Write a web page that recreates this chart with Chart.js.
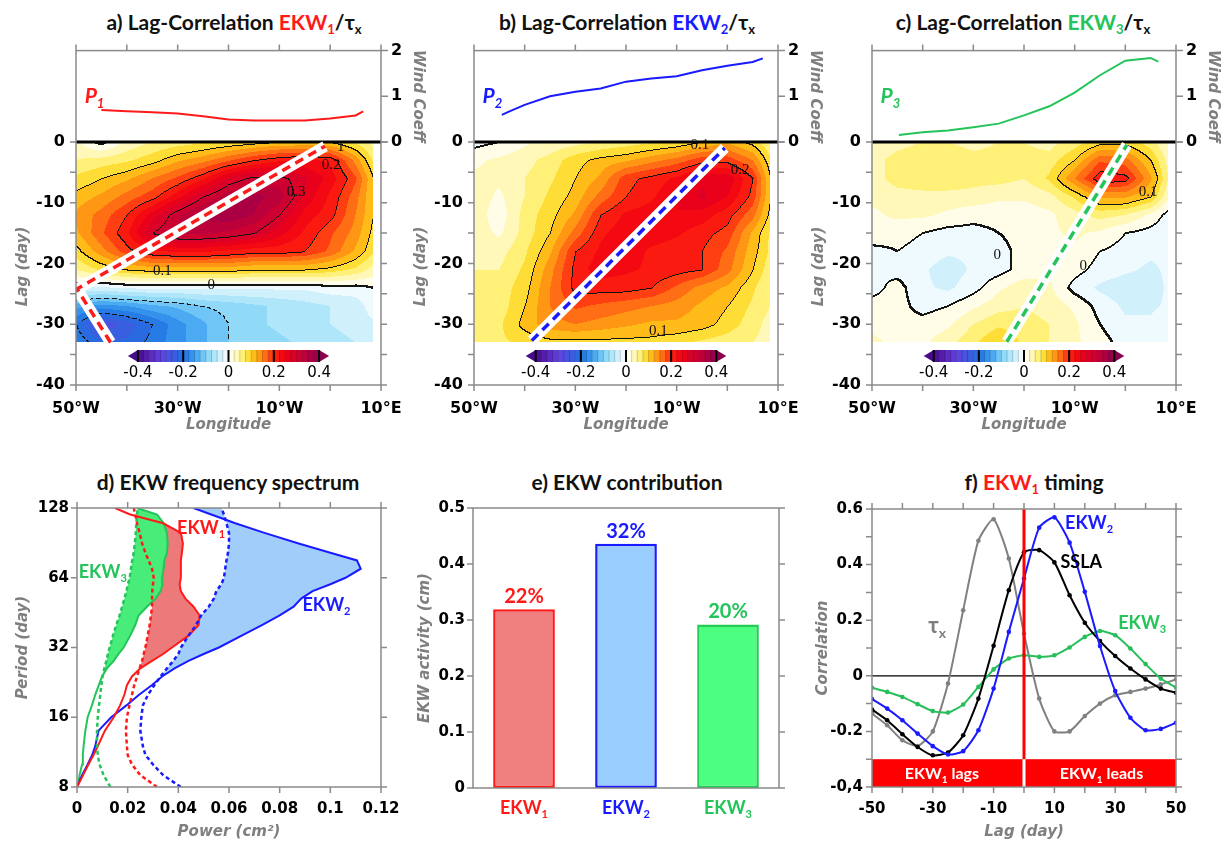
<!DOCTYPE html>
<html>
<head>
<meta charset="utf-8">
<title>EKW lag-correlation</title>
<script src="https://cdn.jsdelivr.net/npm/chart.js@4.4.1/dist/chart.umd.min.js"></script>
<style>
  body { margin: 0; background: #fff; }
  #fig { position: relative; width: 1232px; height: 843px; overflow: hidden; background: #fff; }
  .ttl { position: absolute; font: bold 21px Lato, 'DejaVu Sans', sans-serif; color: #111; white-space: nowrap;
         transform: translateX(-50%); line-height: 1; }
  .ttl sub { font-size: 13px; vertical-align: -4px; line-height: 0; }
  canvas { position: absolute; }
</style>
</head>
<body>
<div id="fig">
  <div class="ttl" style="left:234px;top:11px">a) Lag-Correlation <span style="color:#ff1a1a">EKW<sub>1</sub></span>/τ<sub>x</sub></div>
  <div class="ttl" style="left:627px;top:11px">b) Lag-Correlation <span style="color:#1a1aff">EKW<sub>2</sub></span>/τ<sub>x</sub></div>
  <div class="ttl" style="left:1023px;top:11px">c) Lag-Correlation <span style="color:rgb(36,196,90)">EKW<sub>3</sub></span>/τ<sub>x</sub></div>
  <div class="ttl" style="left:228px;top:471px">d) EKW frequency spectrum</div>
  <div class="ttl" style="left:627px;top:471px">e) EKW contribution</div>
  <div class="ttl" style="left:1034px;top:471px">f) <span style="color:#ff1a1a">EKW<sub>1</sub></span> timing</div>

  <canvas id="cA" width="432" height="410" style="left:0;top:30px"></canvas>
  <canvas id="cB" width="432" height="410" style="left:400px;top:30px"></canvas>
  <canvas id="cC" width="432" height="410" style="left:800px;top:30px"></canvas>
  <canvas id="cD" width="420" height="373" style="left:0;top:470px"></canvas>
  <canvas id="cE" width="410" height="373" style="left:410px;top:470px"></canvas>
  <canvas id="cF" width="418" height="373" style="left:814px;top:470px"></canvas>
</div>
<script>
// ---------- data: lag-correlation maps (rows = lag, cols = longitude) ----------
const LON = [-50, -45, -40, -35, -30, -25, -20, -15, -10, -5, 0, 5, 8.5];
const LAG = [0, -3, -6, -9, -12, -15, -18, -21, -24, -27, -30, -33];

const CORR_A = [
  [0.03, -0.01, 0.03, 0.05, 0.06, 0.07, 0.08, 0.09, 0.10, 0.10, 0.10, 0.07, 0.04],
  [0.05, 0.06, 0.07, 0.09, 0.12, 0.14, 0.17, 0.20, 0.22, 0.23, 0.22, 0.14, 0.07],
  [0.08, 0.10, 0.12, 0.15, 0.18, 0.22, 0.28, 0.31, 0.31, 0.28, 0.24, 0.18, 0.10],
  [0.11, 0.13, 0.16, 0.19, 0.24, 0.30, 0.34, 0.36, 0.34, 0.27, 0.22, 0.16, 0.10],
  [0.13, 0.16, 0.20, 0.26, 0.32, 0.36, 0.37, 0.35, 0.30, 0.24, 0.21, 0.15, 0.10],
  [0.12, 0.17, 0.22, 0.30, 0.33, 0.33, 0.32, 0.30, 0.26, 0.22, 0.18, 0.14, 0.09],
  [0.09, 0.14, 0.19, 0.22, 0.23, 0.23, 0.22, 0.21, 0.21, 0.20, 0.17, 0.12, 0.08],
  [0.05, 0.08, 0.10, 0.11, 0.11, 0.11, 0.11, 0.10, 0.10, 0.10, 0.09, 0.07, 0.04],
  [-0.02, -0.03, -0.02, -0.02, -0.02, -0.02, -0.02, -0.02, -0.02, -0.02, -0.01, -0.01, 0.00],
  [-0.14, -0.16, -0.15, -0.13, -0.12, -0.10, -0.09, -0.08, -0.07, -0.06, -0.05, -0.04, -0.01],
  [-0.20, -0.27, -0.24, -0.20, -0.16, -0.13, -0.10, -0.08, -0.07, -0.06, -0.05, -0.04, -0.03],
  [-0.18, -0.22, -0.22, -0.19, -0.16, -0.13, -0.10, -0.09, -0.08, -0.07, -0.06, -0.05, -0.04]
];
const CORR_B = [
  [-0.01, 0.00, 0.02, 0.03, 0.04, 0.05, 0.06, 0.07, 0.08, 0.10, 0.12, 0.09, 0.05],
  [0.02, 0.03, 0.04, 0.06, 0.09, 0.11, 0.12, 0.14, 0.16, 0.19, 0.19, 0.15, 0.08],
  [0.03, 0.03, 0.05, 0.07, 0.10, 0.13, 0.19, 0.21, 0.23, 0.27, 0.27, 0.20, 0.10],
  [0.04, 0.02, 0.05, 0.08, 0.11, 0.16, 0.20, 0.22, 0.25, 0.28, 0.25, 0.19, 0.10],
  [0.04, 0.01, 0.06, 0.09, 0.13, 0.20, 0.23, 0.24, 0.25, 0.24, 0.21, 0.16, 0.09],
  [0.04, 0.02, 0.06, 0.10, 0.16, 0.22, 0.24, 0.24, 0.23, 0.21, 0.19, 0.12, 0.07],
  [0.04, 0.04, 0.07, 0.12, 0.20, 0.23, 0.24, 0.22, 0.21, 0.20, 0.17, 0.11, 0.07],
  [0.05, 0.05, 0.08, 0.14, 0.21, 0.24, 0.23, 0.22, 0.21, 0.20, 0.16, 0.10, 0.06],
  [0.05, 0.06, 0.09, 0.15, 0.21, 0.21, 0.21, 0.20, 0.17, 0.14, 0.12, 0.08, 0.05],
  [0.05, 0.06, 0.10, 0.15, 0.18, 0.17, 0.16, 0.15, 0.14, 0.12, 0.10, 0.07, 0.05],
  [0.05, 0.07, 0.11, 0.14, 0.15, 0.14, 0.13, 0.12, 0.12, 0.11, 0.09, 0.06, 0.04],
  [0.05, 0.07, 0.08, 0.09, 0.09, 0.09, 0.09, 0.09, 0.08, 0.07, 0.06, 0.05, 0.04]
];
const CORR_C = [
  [0.03, 0.04, 0.05, 0.05, 0.04, 0.05, 0.05, 0.04, 0.06, 0.09, 0.09, 0.06, 0.02],
  [0.04, 0.06, 0.07, 0.07, 0.06, 0.06, 0.06, 0.06, 0.10, 0.17, 0.16, 0.10, 0.04],
  [0.04, 0.06, 0.07, 0.07, 0.06, 0.06, 0.05, 0.08, 0.15, 0.22, 0.21, 0.13, 0.05],
  [0.03, 0.04, 0.04, 0.04, 0.04, 0.03, 0.03, 0.04, 0.08, 0.13, 0.13, 0.10, 0.03],
  [0.02, 0.03, 0.03, 0.02, 0.01, 0.01, 0.01, 0.02, 0.04, 0.06, 0.05, 0.02, -0.01],
  [0.02, 0.01, 0.00, -0.01, -0.01, 0.00, 0.01, 0.02, 0.03, 0.02, 0.00, -0.01, -0.02],
  [-0.01, 0.00, -0.01, -0.02, -0.02, -0.01, 0.01, 0.02, 0.02, 0.00, -0.01, -0.02, -0.02],
  [0.00, -0.01, -0.02, -0.04, -0.02, -0.01, 0.01, 0.02, 0.01, -0.01, -0.02, -0.03, -0.02],
  [-0.01, 0.01, -0.02, -0.03, -0.01, 0.02, 0.04, 0.03, -0.01, -0.03, -0.04, -0.04, -0.02],
  [0.01, 0.01, -0.01, 0.00, 0.02, 0.04, 0.05, 0.04, 0.02, -0.01, -0.03, -0.03, -0.02],
  [0.02, 0.01, 0.01, 0.02, 0.05, 0.07, 0.06, 0.05, 0.03, 0.00, -0.02, -0.02, -0.01],
  [0.03, 0.02, 0.02, 0.04, 0.07, 0.10, 0.07, 0.05, 0.03, 0.01, -0.01, -0.01, -0.01]
];

// wind coefficient profiles (upper strips)
const WIND_LON_A = [-45, -40, -35, -30, -25, -20, -15, -10, -5, 0, 5, 6.5];
const WIND_A = [0.70, 0.67, 0.65, 0.62, 0.56, 0.49, 0.47, 0.47, 0.47, 0.51, 0.58, 0.67];
const WIND_LON_B = [-44.5, -43, -40, -35, -30, -25, -20, -15, -10, -5, 0, 5, 7];
const WIND_B = [0.59, 0.67, 0.81, 1.00, 1.10, 1.17, 1.32, 1.39, 1.44, 1.57, 1.67, 1.75, 1.83];
const WIND_LON_C = [-44.7, -40, -35, -30, -25, -20, -15, -10, -5, 0, 5, 6.5];
const WIND_C = [0.15, 0.21, 0.25, 0.32, 0.40, 0.58, 0.78, 1.08, 1.46, 1.78, 1.84, 1.76];

// propagation paths (lon, lag)
const PATH_LON_A = [-43.2, -49.8, -1.0];
const PATH_LAG_A = [-33.0, -24.2, -0.7];
const PATH_LON_B = [-38.6, -0.5];
const PATH_LAG_B = [-32.7, -1.0];
const PATH_LON_C = [-23.4, 0.3];
const PATH_LAG_C = [-32.9, -0.5];

const LON_TICKS = [-50, -30, -10, 10];
const LON_MARKS = [-50, -40, -30, -20, -10, 0, 10];
const LAG_TICKS = [-40, -30, -20, -10, 0];
const LAG_MARKS = [-40, -35, -30, -25, -20, -15, -10, -5, 0];
const WIND_TICKS = [0, 1, 2];
const CBAR_TICKS = [-0.4, -0.2, 0, 0.2, 0.4];

// ---------- data: spectrum (d) ----------
const PERIODS = [8, 9, 10, 11, 12, 14, 16, 18, 20, 22, 24, 26, 28, 30, 32, 36, 40, 44, 48, 52, 56, 60, 64, 70, 76, 82, 90, 100, 110, 120, 128];
const EKW1_POW = [0, 0.0024, 0.0045, 0.0065, 0.0082, 0.011, 0.0145, 0.017, 0.0187, 0.0197, 0.0217, 0.025, 0.0296, 0.034, 0.0375, 0.044, 0.048, 0.0484, 0.046, 0.0428, 0.041, 0.0405, 0.041, 0.041, 0.041, 0.0414, 0.0418, 0.041, 0.034, 0.021, 0.015];
const EKW2_POW = [0, 0.002, 0.0042, 0.006, 0.0072, 0.0085, 0.0135, 0.0195, 0.0245, 0.0295, 0.0336, 0.0385, 0.044, 0.05, 0.056, 0.065, 0.073, 0.08, 0.0855, 0.0885, 0.093, 0.1, 0.106, 0.112, 0.1105, 0.1, 0.0875, 0.074, 0.0625, 0.053, 0.046];
const EKW3_POW = [0.0003, 0.001, 0.002, 0.0023, 0.0026, 0.0033, 0.0042, 0.0059, 0.0072, 0.0086, 0.0099, 0.0118, 0.0145, 0.0164, 0.0184, 0.021, 0.023, 0.0243, 0.0276, 0.031, 0.033, 0.0338, 0.0336, 0.0342, 0.0345, 0.0355, 0.0358, 0.0355, 0.0342, 0.0316, 0.0237];
const EKW1_SIG = [0.0316, 0.025, 0.0217, 0.02, 0.0197, 0.0193, 0.0197, 0.0207, 0.0217, 0.0226, 0.0237, 0.0247, 0.0257, 0.0263, 0.027, 0.0279, 0.0287, 0.0292, 0.0296, 0.0296, 0.0297, 0.03, 0.0303, 0.0296, 0.0283, 0.027, 0.0257, 0.0247, 0.0237, 0.023, 0.0224];
const EKW2_SIG = [0.041, 0.034, 0.03, 0.027, 0.026, 0.025, 0.0254, 0.026, 0.028, 0.0305, 0.033, 0.0355, 0.038, 0.04, 0.041, 0.044, 0.047, 0.049, 0.052, 0.054, 0.055, 0.057, 0.058, 0.0585, 0.059, 0.0596, 0.06, 0.06, 0.059, 0.058, 0.057];
const EKW3_SIG = [0.0132, 0.0105, 0.0089, 0.0082, 0.0079, 0.0079, 0.0082, 0.0087, 0.0092, 0.0096, 0.0101, 0.0108, 0.0116, 0.0122, 0.0129, 0.0142, 0.0155, 0.0168, 0.0178, 0.0187, 0.0195, 0.0201, 0.0208, 0.0213, 0.0218, 0.0224, 0.0228, 0.0232, 0.0234, 0.0237, 0.0239];
const POWER_TICKS = [0, 0.02, 0.04, 0.06, 0.08, 0.1, 0.12];
const PERIOD_TICKS = [8, 16, 32, 64, 128];

// ---------- data: contribution (e) ----------
const EKW_NAMES = ['EKW1', 'EKW2', 'EKW3'];
const EKW_ACT = [0.319, 0.436, 0.292];
const EKW_PCT = ['22%', '32%', '20%'];
const ACT_TICKS = [0, 0.1, 0.2, 0.3, 0.4, 0.5];

// ---------- data: timing (f) ----------
const LAG_F = [-50, -45, -40, -35, -30, -25, -20, -15, -10, -5, 0, 5, 10, 15, 20, 25, 30, 35, 40, 45, 50];
const TAUX_F = [-0.136, -0.178, -0.232, -0.253, -0.2, -0.028, 0.236, 0.486, 0.563, 0.422, 0.152, -0.082, -0.2, -0.2, -0.145, -0.1, -0.07, -0.058, -0.046, -0.031, -0.013];
const SSLA_F = [-0.121, -0.16, -0.21, -0.256, -0.286, -0.276, -0.214, -0.082, 0.108, 0.308, 0.444, 0.452, 0.408, 0.29, 0.191, 0.125, 0.071, 0.026, -0.013, -0.046, -0.061];
const EKW2_F = [-0.084, -0.118, -0.16, -0.208, -0.253, -0.283, -0.271, -0.196, -0.046, 0.158, 0.35, 0.533, 0.57, 0.479, 0.302, 0.107, -0.055, -0.151, -0.196, -0.191, -0.169];
const EKW3_F = [-0.043, -0.058, -0.076, -0.102, -0.127, -0.132, -0.103, -0.04, 0.023, 0.062, 0.074, 0.068, 0.074, 0.102, 0.14, 0.161, 0.146, 0.098, 0.042, -0.01, -0.042];
const LAGF_TICKS = [-50, -30, -10, 10, 30, 50];
const LAGF_MARKS = [-50, -40, -30, -20, -10, 0, 10, 20, 30, 40, 50];
const CORR_TICKS = [-0.4, -0.2, 0, 0.2, 0.4, 0.6];
const CORR_MARKS = [-0.4, -0.3, -0.2, -0.1, 0, 0.1, 0.2, 0.3, 0.4, 0.5, 0.6];

// ---------- styles ----------
const FONT = "'DejaVu Sans', sans-serif";
const LFONT = "Lato, 'DejaVu Sans', sans-serif";
const GRAY = '#7f7f7f';
const FRAME = '#8a8a8a';
const RED = '#ff1a1a', BLUE = '#1a1aff', GREEN = 'rgb(36,196,90)';
const CMAP = [
  [-0.4, [74, 10, 140]], [-0.3, [100, 64, 224]], [-0.2, [32, 112, 224]], [-0.15, [58, 156, 240]],
  [-0.1, [128, 210, 246]], [-0.05, [192, 236, 250]], [0, [255, 255, 255]], [0.05, [255, 245, 160]],
  [0.075, [255, 236, 80]], [0.1, [255, 205, 30]], [0.125, [255, 170, 20]], [0.15, [255, 130, 20]],
  [0.175, [255, 90, 20]], [0.2, [255, 35, 15]], [0.25, [240, 0, 20]], [0.3, [212, 0, 45]],
  [0.35, [180, 0, 62]], [0.4, [140, 0, 80]]
];

Chart.defaults.animation = false;
Chart.defaults.events = [];
Chart.defaults.plugins.legend.display = false;
Chart.defaults.plugins.tooltip.enabled = false;
Chart.defaults.font.family = FONT;
Chart.defaults.color = '#000';

const pts = (xs, ys) => xs.map((x, i) => ({ x, y: ys[i] }));
const setTicks = vals => s => { s.ticks = vals.map(v => ({ value: v })); };
const noGrid = { display: false, drawTicks: false };

function binColor(b) {
  const v = Math.max(-0.41, Math.min(0.41, (b + 0.5) * 0.025));
  let k = 0;
  while (k < CMAP.length - 2 && v > CMAP[k + 1][0]) k++;
  const [v0, c0] = CMAP[k], [v1, c1] = CMAP[k + 1];
  const t = Math.max(0, Math.min(1, (v - v0) / (v1 - v0)));
  return c0.map((c, i) => Math.round(c + (c1[i] - c) * t));
}

function sample(grid, lon, lag) {
  let i = 0; while (i < LON.length - 2 && lon > LON[i + 1]) i++;
  let j = 0; while (j < LAG.length - 2 && lag < LAG[j + 1]) j++;
  const tx = Math.max(0, Math.min(1, (lon - LON[i]) / (LON[i + 1] - LON[i])));
  const ty = Math.max(0, Math.min(1, (lag - LAG[j]) / (LAG[j + 1] - LAG[j])));
  return (1 - ty) * ((1 - tx) * grid[j][i] + tx * grid[j][i + 1]) +
         ty * ((1 - tx) * grid[j + 1][i] + tx * grid[j + 1][i + 1]);
}

// text with subscript parts: [[text, color, isSub]]
function rich(ctx, x, y, parts, size, align = 'left', italic = false) {
  const f = sub => `${italic ? 'italic ' : ''}bold ${sub ? Math.round(size * 0.62) : size}px ${LFONT}`;
  let w = 0;
  parts.forEach(([t, , sub]) => { ctx.font = f(sub); w += ctx.measureText(t).width; });
  let cx = align === 'center' ? x - w / 2 : align === 'right' ? x - w : x;
  ctx.textAlign = 'left'; ctx.textBaseline = 'alphabetic';
  parts.forEach(([t, c, sub]) => {
    ctx.font = f(sub); ctx.fillStyle = c;
    ctx.fillText(t, cx, y + (sub ? size * 0.22 : 0));
    cx += ctx.measureText(t).width;
  });
}

// frame with outward tick marks
function drawFrame(chart, xs, ys, yId) {
  const { ctx, chartArea: a, scales } = chart;
  const sx = scales.x, sy = scales[yId];
  ctx.save();
  ctx.strokeStyle = FRAME; ctx.lineWidth = 1.5;
  ctx.strokeRect(a.left, a.top, a.right - a.left, a.bottom - a.top);
  ctx.beginPath();
  xs.forEach(v => {
    const p = sx.getPixelForValue(v);
    ctx.moveTo(p, a.top); ctx.lineTo(p, a.top - 6);
    ctx.moveTo(p, a.bottom); ctx.lineTo(p, a.bottom + 6);
  });
  ys.forEach(v => {
    const p = sy.getPixelForValue(v);
    ctx.moveTo(a.left, p); ctx.lineTo(a.left - 6, p);
    ctx.moveTo(a.right, p); ctx.lineTo(a.right + 6, p);
  });
  ctx.stroke();
  ctx.restore();
}

// filled contour map + contour lines + colour bar
function heatPlugin(grid) {
  return {
    id: 'heat',
    beforeDatasetsDraw(chart) {
      const { ctx, chartArea: a, scales: { x, y } } = chart;
      const X0 = Math.round(x.getPixelForValue(LON[0])), X1 = Math.round(x.getPixelForValue(LON[LON.length - 1]));
      const Y0 = Math.round(y.getPixelForValue(LAG[0])), Y1 = Math.round(y.getPixelForValue(LAG[LAG.length - 1]));
      const W = X1 - X0, H = Y1 - Y0;
      const val = new Float32Array(W * H);
      for (let j = 0; j < H; j++) {
        const lag = y.getValueForPixel(Y0 + j + 0.5);
        for (let i = 0; i < W; i++) val[j * W + i] = sample(grid, x.getValueForPixel(X0 + i + 0.5), lag);
      }
      const off = document.createElement('canvas');
      off.width = W; off.height = H;
      const octx = off.getContext('2d');
      const img = octx.createImageData(W, H);
      const d = img.data;
      const cache = {};
      for (let k = 0; k < W * H; k++) {
        const b = Math.max(-17, Math.min(16, Math.floor(val[k] / 0.025)));
        const c = cache[b] || (cache[b] = binColor(b));
        d[4 * k] = c[0]; d[4 * k + 1] = c[1]; d[4 * k + 2] = c[2]; d[4 * k + 3] = 255;
      }
      const lev = k => Math.floor(val[k] / 0.1 + 1e-6);
      const ink = (k, s) => { d[4 * k] = s; d[4 * k + 1] = s; d[4 * k + 2] = s; };
      for (let j = 0; j < H; j++) {
        for (let i = 0; i < W; i++) {
          const k = j * W + i, L = lev(k);
          let m = null;
          if (i > 0 && lev(k - 1) !== L) m = Math.max(L, lev(k - 1));
          if (j > 0 && lev(k - W) !== L) m = Math.max(m === null ? -99 : m, L, lev(k - W));
          if (m === null) continue;
          if (m < 0 && (i + j) % 8 > 4) continue;
          ink(k, 20);
          if (m === 0) { if (i > 0) ink(k - 1, 20); if (j > 0) ink(k - W, 20); }
        }
      }
      octx.putImageData(img, 0, 0);
      ctx.drawImage(off, X0, Y0);

      // colour bar
      const Wd = a.right - a.left;
      const cbL = a.left + 0.203 * Wd, cbR = a.left + 0.797 * Wd;
      const cbT = Math.round(y.getPixelForValue(-34.3)), cbH = 12;
      const bw = (cbR - cbL) / 32;
      ctx.save();
      for (let b = -16; b < 16; b++) {
        const c = binColor(b);
        ctx.fillStyle = `rgb(${c[0]},${c[1]},${c[2]})`;
        ctx.fillRect(cbL + (b + 16) * bw, cbT, bw + 0.5, cbH);
      }
      const cl = binColor(-17), cr = binColor(16);
      ctx.fillStyle = `rgb(${cl[0]},${cl[1]},${cl[2]})`;
      ctx.beginPath(); ctx.moveTo(cbL, cbT); ctx.lineTo(cbL - 10, cbT + cbH / 2); ctx.lineTo(cbL, cbT + cbH); ctx.fill();
      ctx.fillStyle = `rgb(${cr[0]},${cr[1]},${cr[2]})`;
      ctx.beginPath(); ctx.moveTo(cbR, cbT); ctx.lineTo(cbR + 10, cbT + cbH / 2); ctx.lineTo(cbR, cbT + cbH); ctx.fill();
      ctx.strokeStyle = 'rgba(0,0,0,0.3)'; ctx.lineWidth = 0.6;
      ctx.beginPath();
      for (let b = 1; b < 32; b++) { ctx.moveTo(cbL + b * bw, cbT); ctx.lineTo(cbL + b * bw, cbT + cbH); }
      ctx.stroke();
      ctx.strokeStyle = '#000'; ctx.lineWidth = 2;
      ctx.beginPath();
      CBAR_TICKS.forEach(v => { const p = cbL + (v + 0.4) / 0.8 * (cbR - cbL); ctx.moveTo(p, cbT); ctx.lineTo(p, cbT + cbH); });
      ctx.stroke();
      ctx.fillStyle = '#000'; ctx.font = `15px ${FONT}`; ctx.textAlign = 'center'; ctx.textBaseline = 'middle';
      CBAR_TICKS.forEach(v => ctx.fillText(String(v), cbL + (v + 0.4) / 0.8 * (cbR - cbL), cbT + cbH + 11));
      ctx.restore();
    }
  };
}

function mapDecor(o) {
  return {
    id: 'mapDecor',
    afterDraw(chart) {
      const { ctx, chartArea: a, scales: { x, y, w } } = chart;
      drawFrame(chart, LON_MARKS, LAG_MARKS, 'y');
      ctx.save();
      ctx.strokeStyle = FRAME; ctx.lineWidth = 1.5;
      ctx.beginPath();
      WIND_TICKS.forEach(v => { const p = w.getPixelForValue(v); ctx.moveTo(a.right, p); ctx.lineTo(a.right + 7, p); });
      ctx.stroke();
      ctx.fillStyle = GRAY; ctx.font = `italic bold 15px ${FONT}`;
      ctx.textAlign = 'center'; ctx.textBaseline = 'middle';
      ctx.save(); ctx.translate(a.left - 53, y.getPixelForValue(-20.5)); ctx.rotate(-Math.PI / 2);
      ctx.fillText('Lag (day)', 0, 0); ctx.restore();
      ctx.save(); ctx.translate(a.right + 37, (w.getPixelForValue(0) + w.getPixelForValue(2)) / 2); ctx.rotate(Math.PI / 2);
      ctx.fillText('Wind Coeff', 0, 0); ctx.restore();
      rich(ctx, x.getPixelForValue(-48.3), w.getPixelForValue(1.0) + 7, [['P', o.color], [o.sub, o.color, true]], 21, 'left', true);
      ctx.fillStyle = '#111'; ctx.font = "15px 'Liberation Serif', serif";
      ctx.textAlign = 'center'; ctx.textBaseline = 'middle';
      o.labels.forEach(([t, lon, lag]) => ctx.fillText(t, x.getPixelForValue(lon), y.getPixelForValue(lag)));
      ctx.restore();
    }
  };
}

function mapChart(id, o) {
  const path = pts(o.pathLon, o.pathLag);
  return new Chart(document.getElementById(id), {
    type: 'line',
    data: {
      datasets: [
        { data: path, yAxisID: 'y', borderColor: o.color, borderWidth: 3.5, borderDash: [9, 6], pointRadius: 0, order: 0, clip: 0 },
        { data: path, yAxisID: 'y', borderColor: '#fff', borderWidth: 11, pointRadius: 0, order: 1, clip: 0 },
        { data: pts(o.windLon, o.wind), yAxisID: 'w', borderColor: o.color, borderWidth: 2, pointRadius: 0, order: 2 },
        { data: [{ x: -50, y: 0 }, { x: 10, y: 0 }], yAxisID: 'y', borderColor: '#000', borderWidth: 3, pointRadius: 0, order: 3 }
      ]
    },
    options: {
      responsive: false,
      layout: { padding: { top: 18, left: 0, right: 0, bottom: 0 } },
      scales: {
        x: {
          type: 'linear', min: -50, max: 10, afterBuildTicks: setTicks(LON_TICKS),
          afterFit: s => { s.height = 55; s.paddingLeft = 0; s.paddingRight = 0; },
          grid: noGrid, border: { display: false },
          ticks: { padding: 14, autoSkip: false, maxRotation: 0, font: { size: 16, weight: 'bold' },
                   callback: v => v < 0 ? `${-v}°W` : `${v}°E` },
          title: { display: true, text: 'Longitude', color: GRAY, padding: { top: 0, bottom: 6 },
                   font: { size: 15, weight: 'bold', style: 'italic' } }
        },
        y: {
          type: 'linear', position: 'left', min: -40, max: 15.02, afterBuildTicks: setTicks(LAG_TICKS),
          afterFit: s => { s.width = o.leftW; }, grid: noGrid, border: { display: false },
          ticks: { padding: 11, autoSkip: false, font: { size: 16, weight: 'bold' } }
        },
        w: {
          type: 'linear', position: 'right', min: -5.326, max: 2, afterBuildTicks: setTicks(WIND_TICKS),
          afterFit: s => { s.width = o.rightW; }, grid: noGrid, border: { display: false },
          ticks: { padding: 10, autoSkip: false, font: { size: 16, weight: 'bold' } }
        }
      }
    },
    plugins: [heatPlugin(o.grid), mapDecor(o)]
  });
}

mapChart('cA', {
  grid: CORR_A, windLon: WIND_LON_A, wind: WIND_A, pathLon: PATH_LON_A, pathLag: PATH_LAG_A,
  color: RED, sub: '1', leftW: 76, rightW: 51,
  labels: [['0.1', -33, -21.2], ['0', -23.4, -23.6], ['0.3', -6.7, -8.2], ['0.2', 0.2, -3.8], ['1', 2.1, -0.8]]
});
mapChart('cB', {
  grid: CORR_B, windLon: WIND_LON_B, wind: WIND_B, pathLon: PATH_LON_B, pathLag: PATH_LAG_B,
  color: BLUE, sub: '2', leftW: 74, rightW: 54,
  labels: [['0.1', -13.6, -31.2], ['0.2', 2.5, -4.6], ['0.1', -5.4, -0.6]]
});
mapChart('cC', {
  grid: CORR_C, windLon: WIND_LON_C, wind: WIND_C, pathLon: PATH_LON_C, pathLag: PATH_LAG_C,
  color: GREEN, sub: '3', leftW: 72, rightW: 56,
  labels: [['0.1', 4.5, -8.2], ['0', -25.3, -18.7], ['0', -8.3, -20.4]]
});

// ---------- d) spectrum ----------
const spectrumFill = {
  id: 'spectrumFill',
  beforeDatasetsDraw(chart) {
    const ctx = chart.ctx;
    // [solid dataset, dashed dataset, from period, to period, colour]
    [[4, 1, 24, 128, 'rgb(160,205,250)'], [3, 0, 26, 110, 'rgb(236,122,122)'], [5, 2, 24, 128, 'rgb(72,236,120)']]
      .forEach(([si, di, p0, p1, col]) => {
        const sp = chart.getDatasetMeta(si).data, dp = chart.getDatasetMeta(di).data;
        const idx = PERIODS.map((p, i) => i).filter(i => PERIODS[i] >= p0 && PERIODS[i] <= p1);
        ctx.save();
        ctx.beginPath();
        idx.forEach((i, k) => k ? ctx.lineTo(sp[i].x, sp[i].y) : ctx.moveTo(sp[i].x, sp[i].y));
        idx.slice().reverse().forEach(i => ctx.lineTo(dp[i].x, dp[i].y));
        ctx.closePath();
        ctx.fillStyle = col; ctx.fill();
        ctx.restore();
      });
  },
  afterDraw(chart) {
    const { ctx, scales: { x, y } } = chart;
    drawFrame(chart, POWER_TICKS, PERIOD_TICKS, 'y');
    ctx.save();
    rich(ctx, x.getPixelForValue(0.0395), y.getPixelForValue(105) + 6, [['EKW', RED], ['1', RED, true]], 18);
    rich(ctx, x.getPixelForValue(0.0007), y.getPixelForValue(68) + 6, [['EKW', GREEN], ['3', GREEN, true]], 18);
    rich(ctx, x.getPixelForValue(0.089), y.getPixelForValue(49) + 6, [['EKW', BLUE], ['2', BLUE, true]], 18);
    ctx.restore();
  }
};
const dashed = (xs, color) => ({ data: pts(xs, PERIODS), borderColor: color, borderWidth: 2.5, borderDash: [4, 3], pointRadius: 0, order: 0 });
const solid = (xs, color) => ({ data: pts(xs, PERIODS), borderColor: color, borderWidth: 2, pointRadius: 0, order: 1 });
new Chart(document.getElementById('cD'), {
  type: 'line',
  data: {
    datasets: [
      dashed(EKW1_SIG, RED), dashed(EKW2_SIG, BLUE), dashed(EKW3_SIG, GREEN),
      solid(EKW1_POW, RED), solid(EKW2_POW, BLUE), solid(EKW3_POW, GREEN)
    ]
  },
  options: {
    responsive: false,
    layout: { padding: { top: 38, right: 39, left: 0, bottom: 0 } },
    scales: {
      x: {
        type: 'linear', min: 0, max: 0.12, afterBuildTicks: setTicks(POWER_TICKS),
        afterFit: s => { s.height = 56; s.paddingLeft = 0; s.paddingRight = 0; },
        grid: noGrid, border: { display: false },
        ticks: { padding: 13, autoSkip: false, maxRotation: 0, font: { size: 15, weight: 'bold' }, callback: v => String(+v.toFixed(2)) },
        title: { display: true, text: 'Power (cm²)', color: GRAY, padding: { top: 0, bottom: 2 }, font: { size: 15, weight: 'bold', style: 'italic' } }
      },
      y: {
        type: 'logarithmic', min: 8, max: 128, afterBuildTicks: setTicks(PERIOD_TICKS),
        afterFit: s => { s.width = 77; }, grid: noGrid, border: { display: false },
        ticks: { padding: 8, autoSkip: false, font: { size: 15, weight: 'bold' }, callback: v => String(v) },
        title: { display: true, text: 'Period (day)', color: GRAY, padding: { top: 14, bottom: 0 }, font: { size: 15, weight: 'bold', style: 'italic' } }
      }
    }
  },
  plugins: [spectrumFill]
});

// ---------- e) contribution ----------
const barDecor = {
  id: 'barDecor',
  afterDraw(chart) {
    const { ctx, chartArea: a, scales: { x } } = chart;
    drawFrame(chart, [], ACT_TICKS, 'y');
    const cols = [RED, BLUE, GREEN];
    const bars = chart.getDatasetMeta(0).data;
    ctx.save();
    EKW_NAMES.forEach((name, i) => {
      const px = x.getPixelForValue(i);
      rich(ctx, px, a.bottom + 26, [[name.slice(0, 3), cols[i]], [name.slice(3), cols[i], true]], 18, 'center');
      rich(ctx, bars[i].x, bars[i].y - 6, [[EKW_PCT[i], cols[i]]], 20, 'center');
    });
    ctx.restore();
  }
};
new Chart(document.getElementById('cE'), {
  type: 'bar',
  data: {
    labels: EKW_NAMES,
    datasets: [{
      data: EKW_ACT,
      backgroundColor: ['rgb(240,128,128)', 'rgb(153,204,255)', 'rgb(77,255,128)'],
      borderColor: [RED, BLUE, 'rgb(34,204,85)'],
      borderWidth: 2.5, borderSkipped: false,
      barPercentage: 0.605, categoryPercentage: 1
    }]
  },
  options: {
    responsive: false,
    layout: { padding: { top: 38, right: 41, left: 0, bottom: 0 } },
    scales: {
      x: {
        afterFit: s => { s.height = 55; s.paddingLeft = 0; s.paddingRight = 0; },
        grid: noGrid, border: { display: false }, ticks: { display: false }
      },
      y: {
        min: 0, max: 0.5, afterBuildTicks: setTicks(ACT_TICKS),
        afterFit: s => { s.width = 63; }, grid: noGrid, border: { display: false },
        ticks: { padding: 8, autoSkip: false, font: { size: 15, weight: 'bold' }, callback: v => String(+v.toFixed(1)) },
        title: { display: true, text: 'EKW activity (cm)', color: GRAY, padding: { top: 6, bottom: 0 }, font: { size: 15, weight: 'bold', style: 'italic' } }
      }
    }
  },
  plugins: [barDecor]
});

// ---------- f) timing ----------
const timingDecor = {
  id: 'timingDecor',
  beforeDatasetsDraw(chart) {
    const { ctx, chartArea: a, scales: { x, y } } = chart;
    ctx.save();
    ctx.fillStyle = '#fe0000';
    const t = y.getPixelForValue(-0.3), b = y.getPixelForValue(-0.4), z = x.getPixelForValue(0);
    ctx.fillRect(a.left, t, z - 1.5 - a.left, b - t);
    ctx.fillRect(z + 1.5, t, a.right - z - 1.5, b - t);
    ctx.strokeStyle = '#000'; ctx.lineWidth = 1.2;
    ctx.beginPath(); ctx.moveTo(a.left, y.getPixelForValue(0)); ctx.lineTo(a.right, y.getPixelForValue(0)); ctx.stroke();
    ctx.restore();
  },
  afterDatasetsDraw(chart) {
    const { ctx, chartArea: a, scales: { x, y } } = chart;
    ctx.save();
    ctx.strokeStyle = '#fe0000'; ctx.lineWidth = 3;
    ctx.beginPath(); ctx.moveTo(x.getPixelForValue(0), a.top); ctx.lineTo(x.getPixelForValue(0), y.getPixelForValue(-0.3)); ctx.stroke();
    const mid = y.getPixelForValue(-0.35) + 6;
    rich(ctx, x.getPixelForValue(-27), mid, [['EKW', '#fff'], ['1', '#fff', true], [' lags', '#fff']], 16, 'center');
    rich(ctx, x.getPixelForValue(25.5), mid, [['EKW', '#fff'], ['1', '#fff', true], [' leads', '#fff']], 16, 'center');
    rich(ctx, x.getPixelForValue(13.5), y.getPixelForValue(0.55) + 6, [['EKW', BLUE], ['2', BLUE, true]], 18);
    rich(ctx, x.getPixelForValue(12), y.getPixelForValue(0.41) + 6, [['SSLA', '#000']], 18);
    rich(ctx, x.getPixelForValue(-31.5), y.getPixelForValue(0.18) + 7, [['τ', GRAY], ['x', GRAY, true]], 22);
    rich(ctx, x.getPixelForValue(31), y.getPixelForValue(0.19) + 6, [['EKW', GREEN], ['3', GREEN, true]], 18);
    ctx.restore();
  },
  afterDraw(chart) { drawFrame(chart, LAGF_MARKS, CORR_MARKS, 'y'); }
};
const corrLine = (ys, color, order) => ({
  data: pts(LAG_F, ys), borderColor: color, backgroundColor: color, borderWidth: 2,
  pointRadius: 2.3, pointBorderWidth: 0, tension: 0.2, order
});
new Chart(document.getElementById('cF'), {
  type: 'line',
  data: {
    datasets: [
      corrLine(TAUX_F, '#808080', 3), corrLine(EKW3_F, 'rgb(40,190,90)', 2),
      corrLine(SSLA_F, '#000', 1), corrLine(EKW2_F, BLUE, 0)
    ]
  },
  options: {
    responsive: false,
    layout: { padding: { top: 39, right: 56, left: 0, bottom: 0 } },
    scales: {
      x: {
        type: 'linear', min: -50, max: 50, afterBuildTicks: setTicks(LAGF_TICKS),
        afterFit: s => { s.height = 56; s.paddingLeft = 0; s.paddingRight = 0; },
        grid: noGrid, border: { display: false },
        ticks: { padding: 13, autoSkip: false, maxRotation: 0, font: { size: 15, weight: 'bold' } },
        title: { display: true, text: 'Lag (day)', color: GRAY, padding: { top: 0, bottom: 2 }, font: { size: 15, weight: 'bold', style: 'italic' } }
      },
      y: {
        type: 'linear', min: -0.4, max: 0.6, afterBuildTicks: setTicks(CORR_TICKS),
        afterFit: s => { s.width = 58; }, grid: noGrid, border: { display: false },
        ticks: { padding: 9, autoSkip: false, font: { size: 15, weight: 'bold' },
                 callback: v => Math.abs(v + 0.4) < 1e-9 ? '-0,4' : String(+v.toFixed(1)) },
        title: { display: true, text: 'Correlation', color: GRAY, padding: { top: 0, bottom: 0 }, font: { size: 15, weight: 'bold', style: 'italic' } }
      }
    }
  },
  plugins: [timingDecor]
});
</script>
</body>
</html>
